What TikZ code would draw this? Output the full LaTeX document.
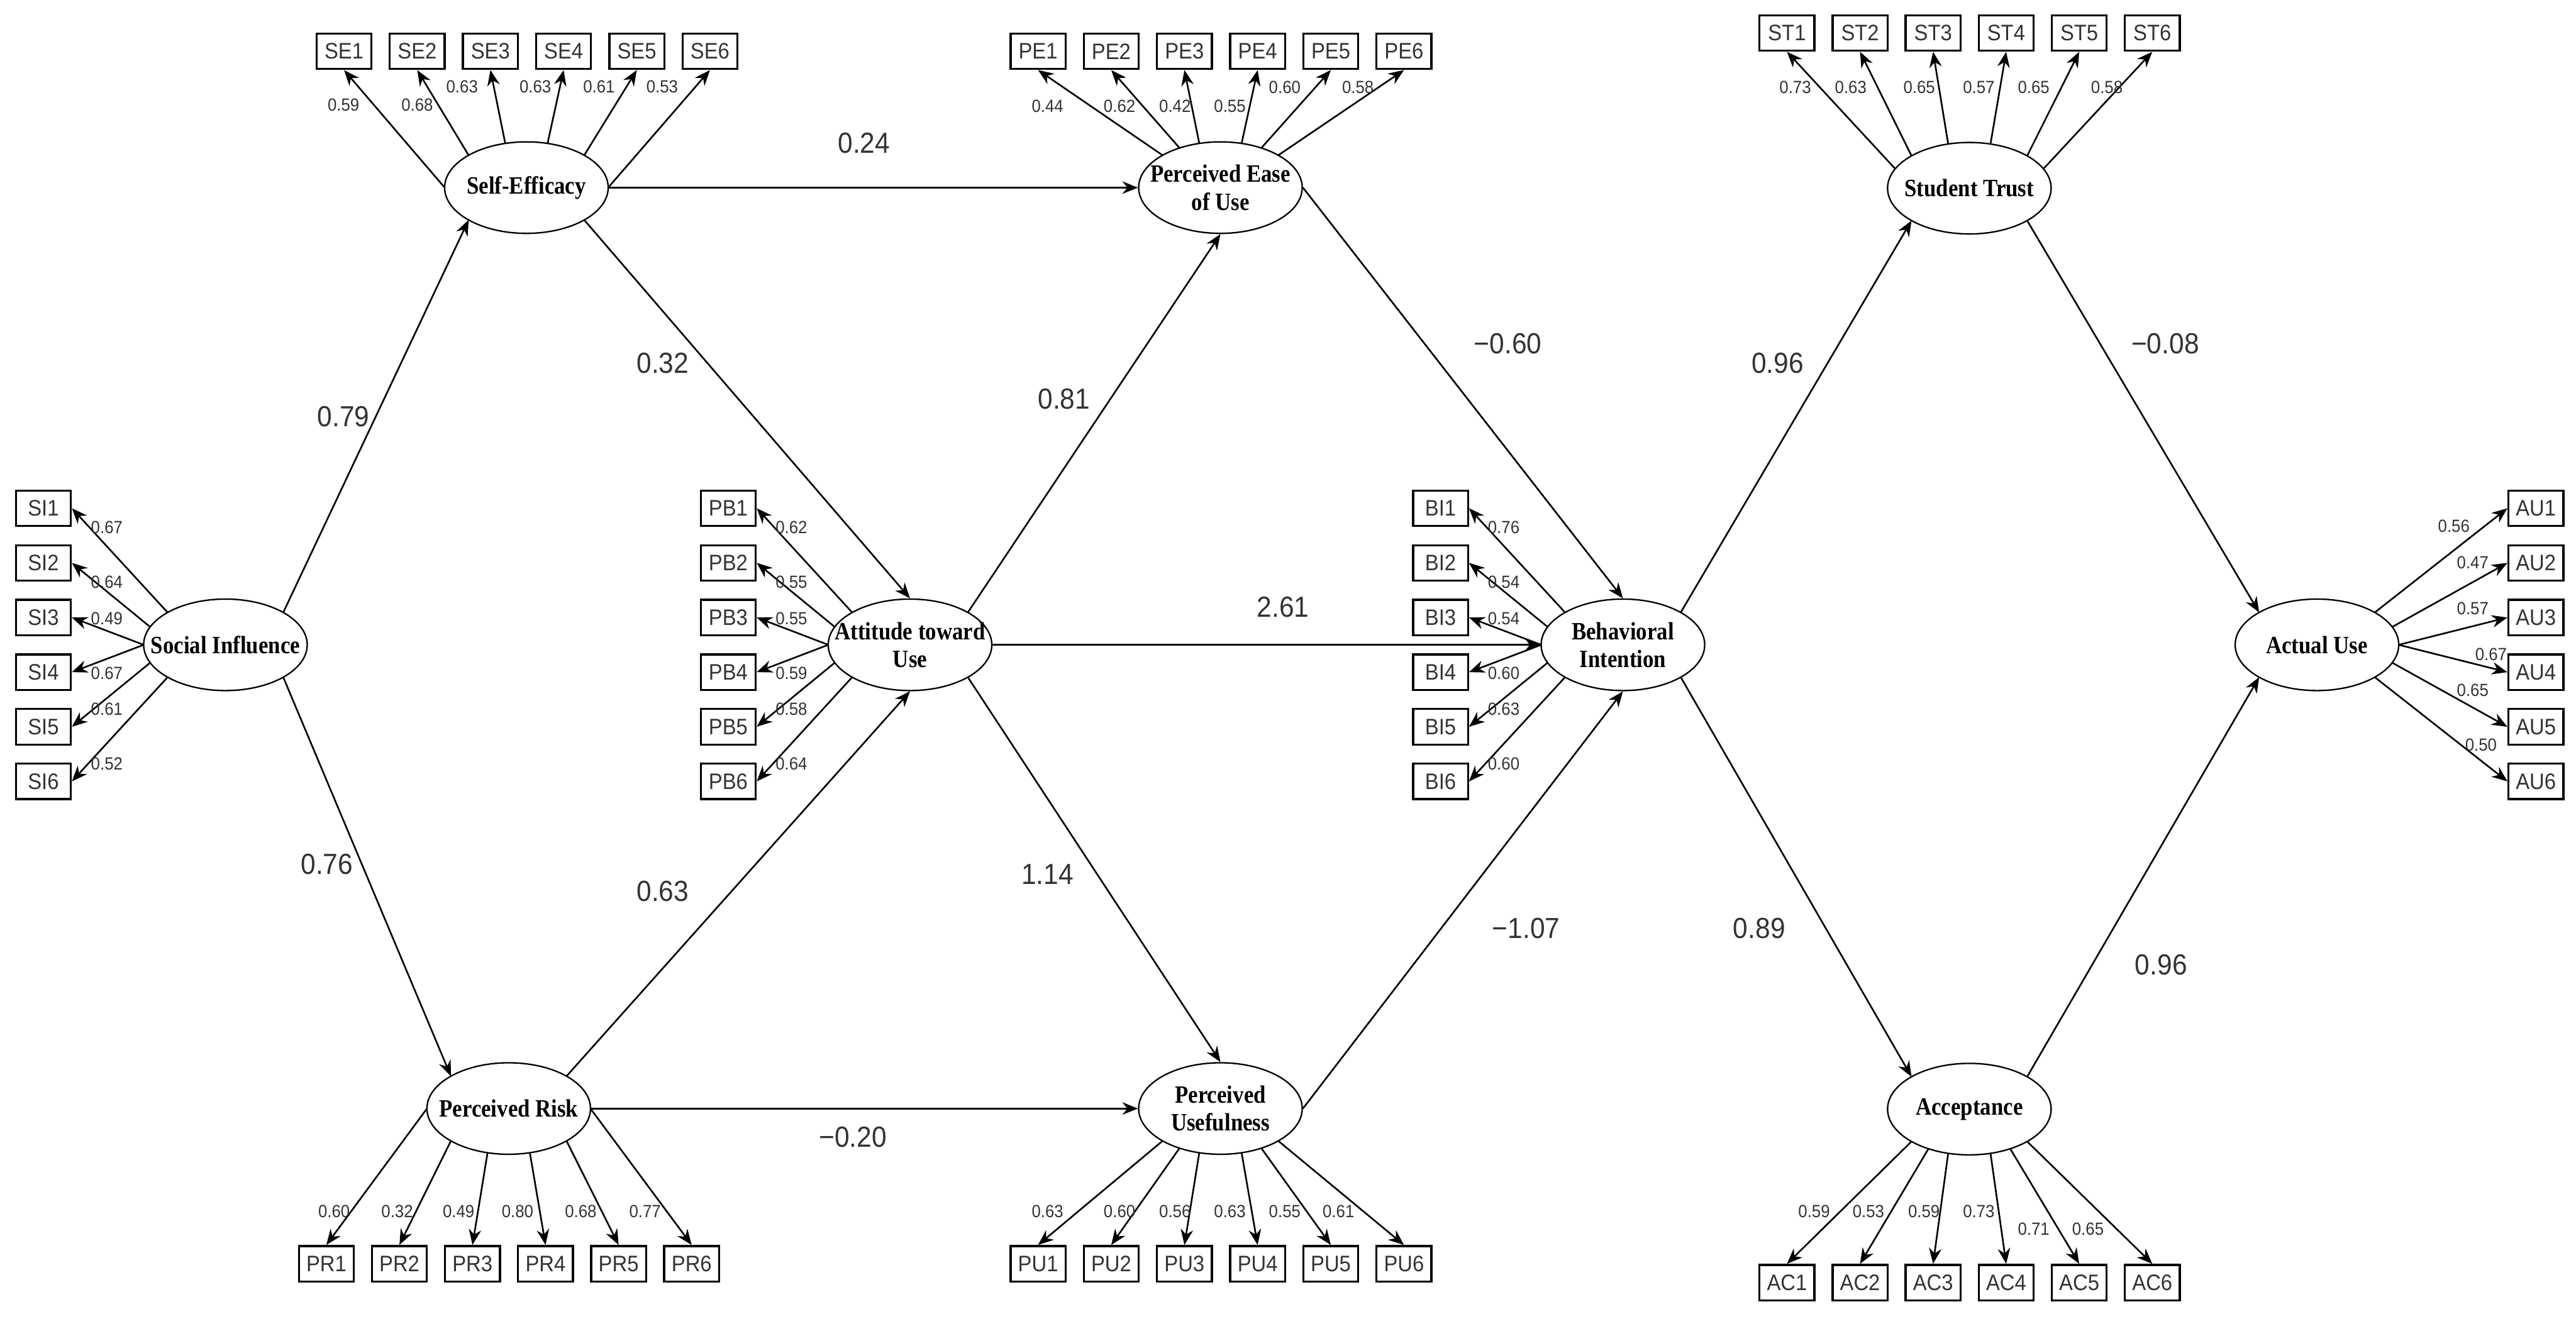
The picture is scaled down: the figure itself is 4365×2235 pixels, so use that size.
\documentclass[tikz,border=0pt]{standalone}
\usepackage{fontspec}
\setmainfont{Liberation Sans}
\newfontfamily\latfont[FakeStretch=0.88]{Liberation Serif}
\newfontfamily\arfont[FakeStretch=0.92]{Liberation Sans}
\usetikzlibrary{shapes.geometric,arrows.meta}
\definecolor{txt}{HTML}{333333}
\newcommand\ep[2]{([shift={(-#2:138.5 and 77.5)}]#1.center)}
\tikzset{
  lat/.style={ellipse, draw, line width=0.7pt, minimum width=2.77cm, minimum height=1.55cm,
    inner sep=0pt},
  latlbl/.style={inner sep=0pt, align=center, font=\latfont\bfseries\fontsize{12}{13.4}\selectfont},
  ind/.style={draw, line width=1pt, minimum width=0.93cm, minimum height=0.6cm,
    inner sep=0pt, text=txt, font=\arfont\fontsize{10.8}{12}\selectfont},
  ld/.style={text=txt, inner sep=0pt, font=\arfont\fontsize{8.5}{9}\selectfont},
  pl/.style={text=txt, inner sep=0pt, font=\arfont\fontsize{14}{16}\selectfont},
  arr/.style={-{Stealth[length=7.5pt,width=6pt]}, line width=0.8pt}
}
\begin{document}
\begin{tikzpicture}[x=0.01cm,y=-0.01cm]
\fill[white] (0,0) rectangle (4365,2235);
\useasboundingbox (0,0) rectangle (4365,2235);

% latent variables
\node[lat] (SI) at (382,1093) {};
\node[lat] (SE) at (892,318) {};
\node[lat] (PR) at (862,1879) {};
\node[lat] (ATU) at (1542,1093) {};
\node[lat] (PE) at (2068,318) {};
\node[lat] (PU) at (2068,1879) {};
\node[lat] (BI) at (2750,1093) {};
\node[lat] (ST) at (3337,319) {};
\node[lat] (AC) at (3337,1880) {};
\node[lat] (AU) at (3926,1093) {};
\node[latlbl] (tSI) at (SI.center) {Social Influence};
\node[latlbl] (tSE) at (SE.center) {Self-Efficacy};
\node[latlbl] (tPR) at (PR.center) {Perceived Risk};
\node[latlbl] (tATU) at (ATU.center) {Attitude toward\\Use};
\node[latlbl] (tPE) at (PE.center) {Perceived Ease\\of Use};
\node[latlbl] (tPU) at (PU.center) {Perceived\\Usefulness};
\node[latlbl] (tBI) at (BI.center) {Behavioral\\Intention};
\node[latlbl] (tST) at (ST.center) {Student Trust};
\node[latlbl] (tAC) at (AC.center) {Acceptance};
\node[latlbl] (tAU) at (AU.center) {Actual Use};

% indicator columns (left side)
\foreach \i/\a/\v/\d in {1/135/0.67/32,2/157/0.64/32,3/180/0.49/2,4/180/0.67/2,5/203/0.61/-30,6/225/0.52/-30}{
  \node[ind] (SI\i) at (73.5,{1093+(\i-3.5)*92.6}) {SI\i};
  \draw[arr] \ep{SI}{\a} -- (SI\i.east);
  \node[ld] (lSI\i) at (181,{1093+(\i-3.5)*92.6+\d}) {\v};
}
\foreach \i/\a/\v/\d in {1/135/0.62/32,2/157/0.55/32,3/180/0.55/2,4/180/0.59/2,5/203/0.58/-30,6/225/0.64/-30}{
  \node[ind] (PB\i) at (1234,{1093+(\i-3.5)*92.6}) {PB\i};
  \draw[arr] \ep{ATU}{\a} -- (PB\i.east);
  \node[ld] (lPB\i) at (1341,{1093+(\i-3.5)*92.6+\d}) {\v};
}
\foreach \i/\a/\v/\d in {1/135/0.76/32,2/157/0.54/32,3/180/0.54/2,4/180/0.60/2,5/203/0.63/-30,6/225/0.60/-30}{
  \node[ind] (BI\i) at (2441,{1093+(\i-3.5)*92.6}) {BI\i};
  \draw[arr] \ep{BI}{\a} -- (BI\i.east);
  \node[ld] (lBI\i) at (2548,{1093+(\i-3.5)*92.6+\d}) {\v};
}
% right column
\foreach \i/\a/\v/\lx/\ly in {1/45/0.56/4158/892,2/23/0.47/4190/954,3/0/0.57/4190/1031,4/0/0.67/4221/1109,5/337/0.65/4190/1170,6/315/0.50/4204/1263}{
  \node[ind] (AU\i) at (4297,{1093+(\i-3.5)*92.6}) {AU\i};
  \draw[arr] \ep{AU}{\a} -- (AU\i.west);
  \node[ld] (lAU\i) at (\lx,\ly) {\v};
}
% top rows
\foreach \i/\a/\v/\lx/\ly in {1/180/0.59/582/178,2/135/0.68/707/178,3/105/0.63/783/147,4/75/0.63/907/147,5/45/0.61/1015/147,6/0/0.53/1122/147}{
  \node[ind] (SE\i) at ({583+(\i-1)*124},87) {SE\i};
  \draw[arr] \ep{SE}{\a} -- (SE\i.south);
  \node[ld] (lSE\i) at (\lx,\ly) {\v};
}
\foreach \i/\a/\v/\lx/\ly in {1/135/0.44/1775/180,2/120/0.62/1897/180,3/105/0.42/1991/180,4/75/0.55/2084/180,5/60/0.60/2177/148,6/45/0.58/2301/148}{
  \node[ind] (PE\i) at ({1759+(\i-1)*124},87) {PE\i};
  \draw[arr] \ep{PE}{\a} -- (PE\i.south);
  \node[ld] (lPE\i) at (\lx,\ly) {\v};
}
\foreach \i/\a/\v/\lx in {1/155/0.73/3042,2/135/0.63/3136,3/105/0.65/3252,4/75/0.57/3353,5/45/0.65/3446,6/25/0.58/3570}{
  \node[ind] (ST\i) at ({3028+(\i-1)*123.8},56) {ST\i};
  \draw[arr] \ep{ST}{\a} -- (ST\i.south);
  \node[ld] (lST\i) at (\lx,148) {\v};
}
% bottom rows
\foreach \i/\a/\v/\lx in {1/180/0.60/566,2/225/0.32/673,3/255/0.49/777,4/285/0.80/877,5/315/0.68/984,6/0/0.77/1093}{
  \node[ind] (PR\i) at ({553+(\i-1)*123.8},2142) {PR\i};
  \draw[arr] \ep{PR}{\a} -- (PR\i.north);
  \node[ld] (lPR\i) at (\lx,2053) {\v};
}
\foreach \i/\a/\v/\lx in {1/225/0.63/1775,2/240/0.60/1897,3/255/0.56/1991,4/285/0.63/2084,5/300/0.55/2177,6/315/0.61/2268}{
  \node[ind] (PU\i) at ({1759+(\i-1)*124},2142) {PU\i};
  \draw[arr] \ep{PU}{\a} -- (PU\i.north);
  \node[ld] (lPU\i) at (\lx,2053) {\v};
}
\foreach \i/\a/\v/\lx/\ly in {1/225/0.59/3074/2053,2/240/0.53/3166/2053,3/255/0.59/3260/2053,4/285/0.73/3353/2053,5/300/0.71/3446/2083,6/315/0.65/3538/2083}{
  \node[ind] (AC\i) at ({3028+(\i-1)*123.8},2174) {AC\i};
  \draw[arr] \ep{AC}{\a} -- (AC\i.north);
  \node[ld] (lAC\i) at (\lx,\ly) {\v};
}

% structural paths
\draw[arr] \ep{SI}{45} -- \ep{SE}{225};
\draw[arr] \ep{SI}{315} -- \ep{PR}{135};
\draw[arr] (SE.east) -- (PE.west);
\draw[arr] \ep{SE}{315} -- (ATU.north);
\draw[arr] \ep{ATU}{45} -- (PE.south);
\draw[arr] (ATU.east) -- (BI.west);
\draw[arr] \ep{ATU}{315} -- (PU.north);
\draw[arr] \ep{PR}{45} -- (ATU.south);
\draw[arr] (PR.east) -- (PU.west);
\draw[arr] (PE.east) -- (BI.north);
\draw[arr] (PU.east) -- (BI.south);
\draw[arr] \ep{BI}{45} -- \ep{ST}{225};
\draw[arr] \ep{BI}{315} -- \ep{AC}{135};
\draw[arr] \ep{ST}{315} -- \ep{AU}{135};
\draw[arr] \ep{AC}{45} -- \ep{AU}{225};

% path coefficients
\node[pl] (p1) at (582,706) {0.79};
\node[pl] (p2) at (554,1465) {0.76};
\node[pl] (p3) at (1464,242) {0.24};
\node[pl] (p4) at (1123,616) {0.32};
\node[pl] (p5) at (1803,676) {0.81};
\node[pl] (p6) at (1123,1511) {0.63};
\node[pl] (p7) at (1775,1482) {1.14};
\node[pl] (p8) at (1445,1927) {−0.20};
\node[pl] (p9) at (2174,1029) {2.61};
\node[pl] (p10) at (2555,582) {−0.60};
\node[pl] (p11) at (3012,616) {0.96};
\node[pl] (p12) at (3669,582) {−0.08};
\node[pl] (p13) at (2586,1574) {−1.07};
\node[pl] (p14) at (2981,1574) {0.89};
\node[pl] (p15) at (3662,1635) {0.96};
\end{tikzpicture}
\end{document}
